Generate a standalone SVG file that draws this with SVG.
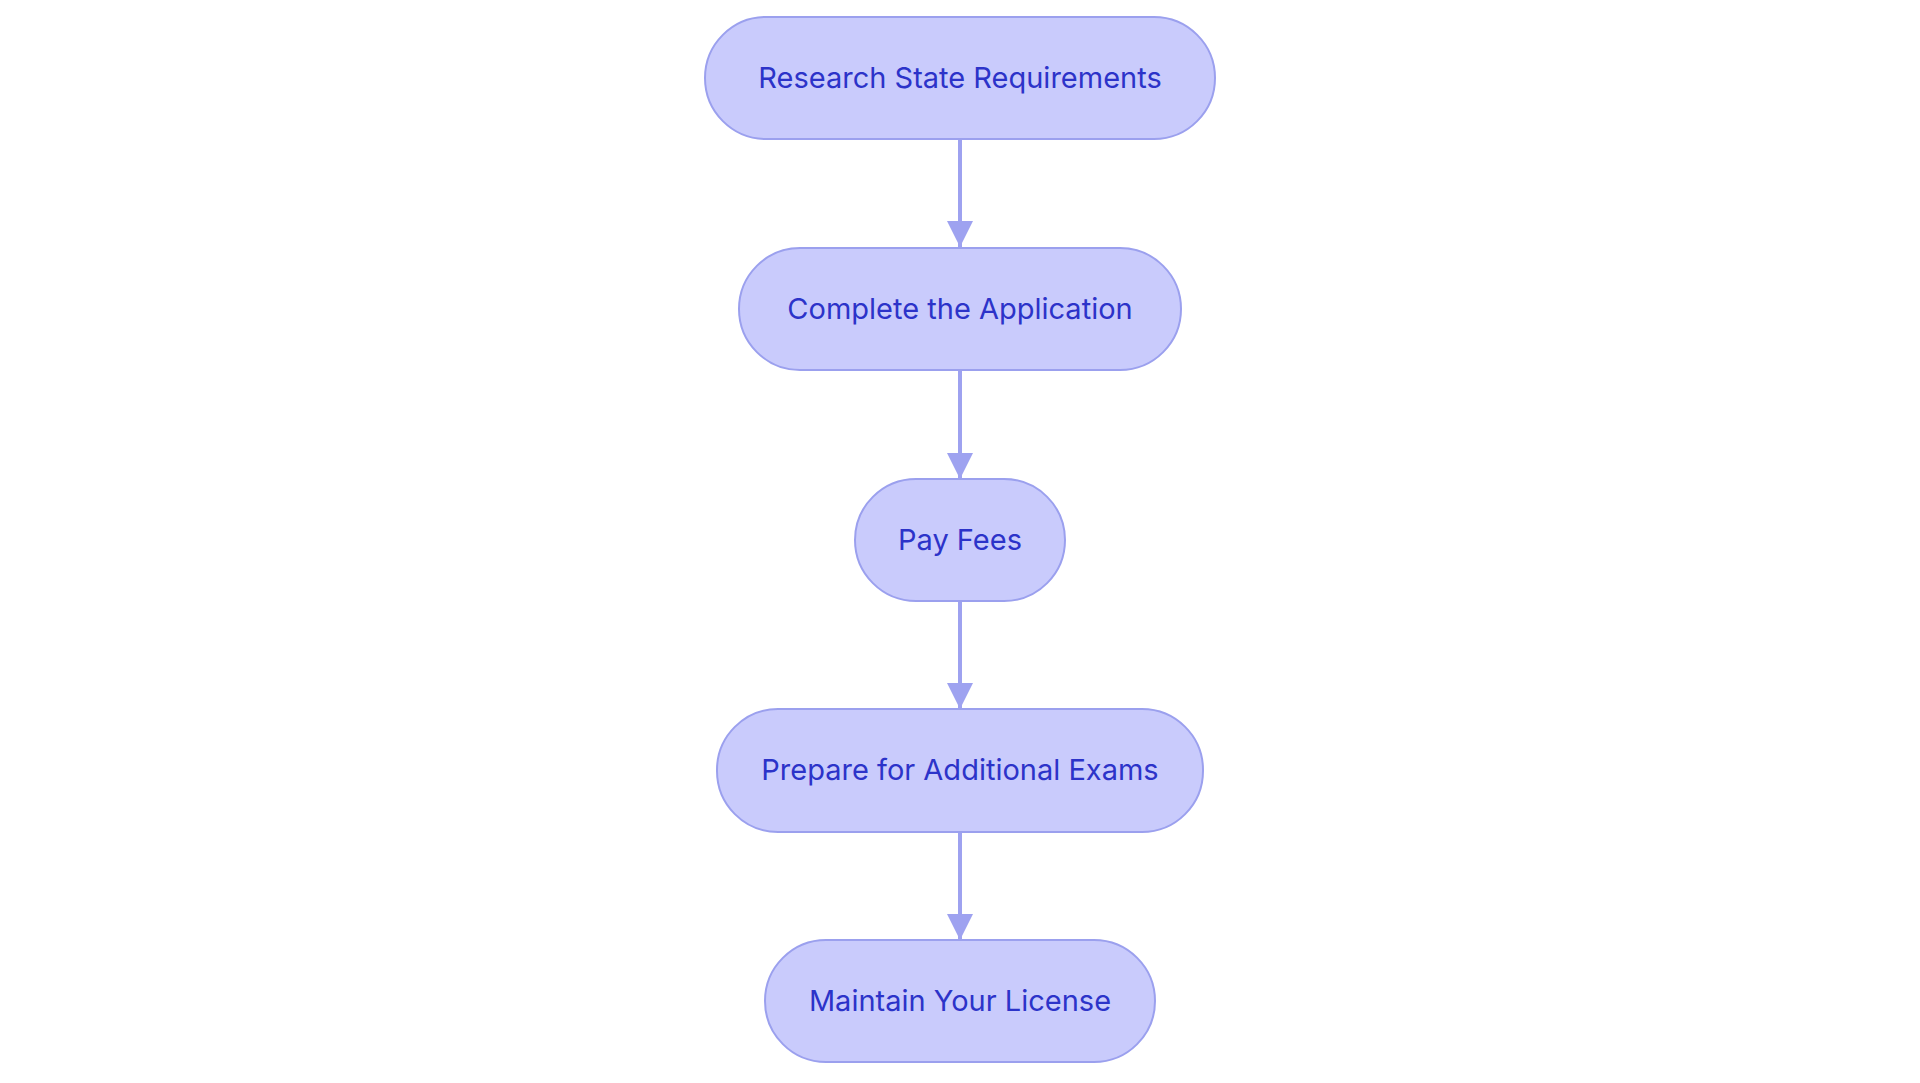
<svg xmlns="http://www.w3.org/2000/svg" width="1920" height="1083" viewBox="0 0 1920 1083">
<style>
.n{fill:#c9cbfc;stroke:#9ba0ee;stroke-width:2}
.t{font-family:Inter,"Noto Sans",sans-serif;font-size:29px;fill:#2c33c9;text-anchor:middle;dominant-baseline:central}
.e{stroke:#9ea2f0;stroke-width:4;fill:none}
</style>
<defs><marker id="a" markerUnits="userSpaceOnUse" markerWidth="26" markerHeight="26" refX="26" refY="13" orient="auto"><path d="M0,0L26,13L0,26Z" fill="#9ea2f0"/></marker></defs>
<rect width="1920" height="1083" fill="#fff"/>
<g id="edges">
<path class="e" d="M960,139V247" marker-end="url(#a)"/>
<path class="e" d="M960,370V479" marker-end="url(#a)"/>
<path class="e" d="M960,601V709" marker-end="url(#a)"/>
<path class="e" d="M960,832V940" marker-end="url(#a)"/>
</g>
<g id="n1"><rect class="n" x="705" y="17" width="510" height="122" rx="61"/><text class="t" x="960" y="77">Research State Requirements</text></g>
<g id="n2"><rect class="n" x="739" y="248" width="442" height="122" rx="61"/><text class="t" x="960" y="308">Complete the Application</text></g>
<g id="n3"><rect class="n" x="855" y="479" width="210" height="122" rx="61"/><text class="t" x="960" y="539">Pay Fees</text></g>
<g id="n4"><rect class="n" x="717" y="709" width="486" height="123" rx="61"/><text class="t" x="960" y="769">Prepare for Additional Exams</text></g>
<g id="n5"><rect class="n" x="765" y="940" width="390" height="122" rx="61"/><text class="t" x="960" y="1000">Maintain Your License</text></g>
</svg>
